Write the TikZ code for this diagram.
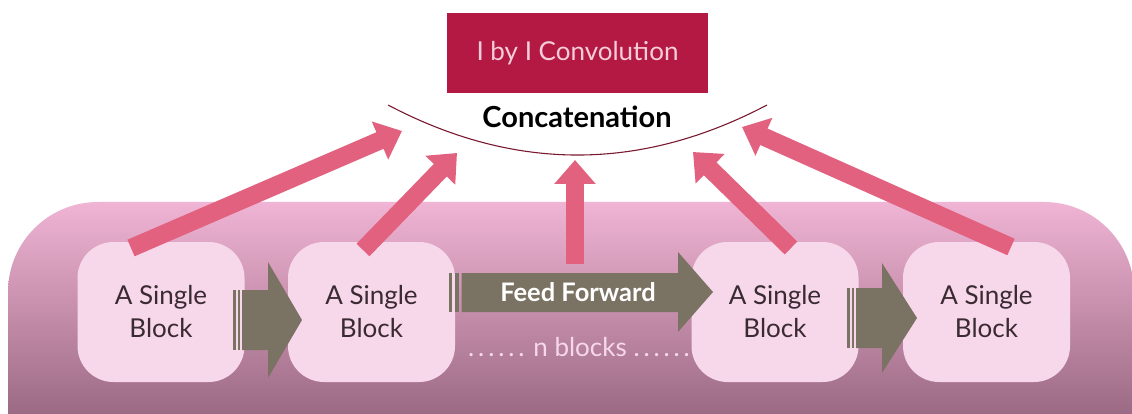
\documentclass[tikz,border=0pt]{standalone}
\usepackage{fontspec}
\setmainfont{Lato}
\usetikzlibrary{arrows.meta}
\definecolor{bgtop}{HTML}{F0B4D4}
\definecolor{bgmid}{HTML}{D695BA}
\definecolor{bgbot}{HTML}{9C6A84}
\definecolor{blockfill}{HTML}{F7D8EA}
\definecolor{flowgray}{HTML}{7A7262}
\definecolor{linkpink}{HTML}{E2617F}
\definecolor{crimson}{HTML}{B31943}
\definecolor{convtext}{HTML}{F6CEDA}
\definecolor{curvered}{HTML}{7A1A30}
\definecolor{blocktext}{HTML}{3A2A32}
\tikzset{
  blockbox/.style={fill=blockfill, rounded corners=36pt, minimum width=167pt,
    minimum height=140pt, align=center, text=blocktext,
    font=\fontsize{26}{33}\selectfont, inner sep=0pt},
  convbox/.style={fill=crimson, minimum width=261pt, minimum height=80pt,
    text=convtext, font=\fontsize{26}{30}\selectfont, inner sep=0pt},
  link/.style={draw=linkpink, line width=18pt, line cap=butt,
    -{Triangle[width=40pt,length=24pt]}},
  flow/.style={fill=flowgray},
}
\begin{document}
\begin{tikzpicture}[x=1pt,y=-1pt]
\useasboundingbox (0,0) rectangle (1132,414);
\fill[white] (0,0) rectangle (1132,414);

% shaded band holding the blocks
\begin{scope}
  \clip[rounded corners=90pt] (8,620) -- (8,202) -- (1134,202) -- (1134,620) -- cycle;
  \shade[top color=bgtop, middle color=bgmid, bottom color=bgbot]
    (0,202) rectangle (1140,414);
\end{scope}

% blocks
\node[blockbox] (b1) at (161,312) {A Single\\Block};
\node[blockbox] (b2) at (371.5,312) {A Single\\Block};
\node[blockbox] (b3) at (775,312) {A Single\\Block};
\node[blockbox] (b4) at (986.5,312) {A Single\\Block};

% block-to-block arrows
\fill[flow] (233,290) rectangle (235.5,350);
\fill[flow] (237.5,290) rectangle (240,350);
\fill[flow] (242,290) -- (268,290) -- (268,262) -- (302,320) -- (268,378)
  -- (268,350) -- (242,350) -- cycle;

\fill[flow] (847,288) rectangle (849.5,348);
\fill[flow] (851.5,288) rectangle (854,348);
\fill[flow] (856,288) -- (882,288) -- (882,263) -- (917,318) -- (882,373)
  -- (882,348) -- (856,348) -- cycle;

% feed forward arrow
\fill[flow] (449,273) rectangle (452,312);
\fill[flow] (455,273) rectangle (458.5,312);
\fill[flow] (461.5,273) -- (678,273) -- (678,252) -- (713,292) -- (678,332)
  -- (678,312) -- (461.5,312) -- cycle;
\node[text=white, font=\bfseries\fontsize{25.5}{28}\selectfont] (ff) at (578,292.5) {Feed Forward};
\node[text=blockfill, font=\fontsize{26}{30}\selectfont] (nb) at (579,347)
  {{\addfontfeature{LetterSpace=15}......} n blocks {\addfontfeature{LetterSpace=15}......}};

% top
\node[convbox] (conv) at (577.5,53) {I by I Convolution};
\node[font=\bfseries\fontsize{29}{32}\selectfont] (concat) at (577,117) {Concatenation};
\coordinate (cl) at (388,105);
\coordinate (cr) at (767,105);
\draw[curvered, line width=1.1pt] (cl) .. controls (514.7,171.7) and (640.3,171.7) .. (cr);

% links from the blocks to the concatenation
\coordinate (s1) at (131,248);
\coordinate (e1) at (402,131);
\coordinate (s2) at (363,250);
\coordinate (e2) at (457,153);
\coordinate (s3) at (575,264);
\coordinate (e3) at (575,160);
\coordinate (s4) at (791,248);
\coordinate (e4) at (693,152);
\coordinate (s5) at (1011,247);
\coordinate (e5) at (742,127);
\draw[link] (s1) -- (e1);
\draw[link] (s2) -- (e2);
\draw[link] (s3) -- (e3);
\draw[link] (s4) -- (e4);
\draw[link] (s5) -- (e5);
\end{tikzpicture}
\end{document}
